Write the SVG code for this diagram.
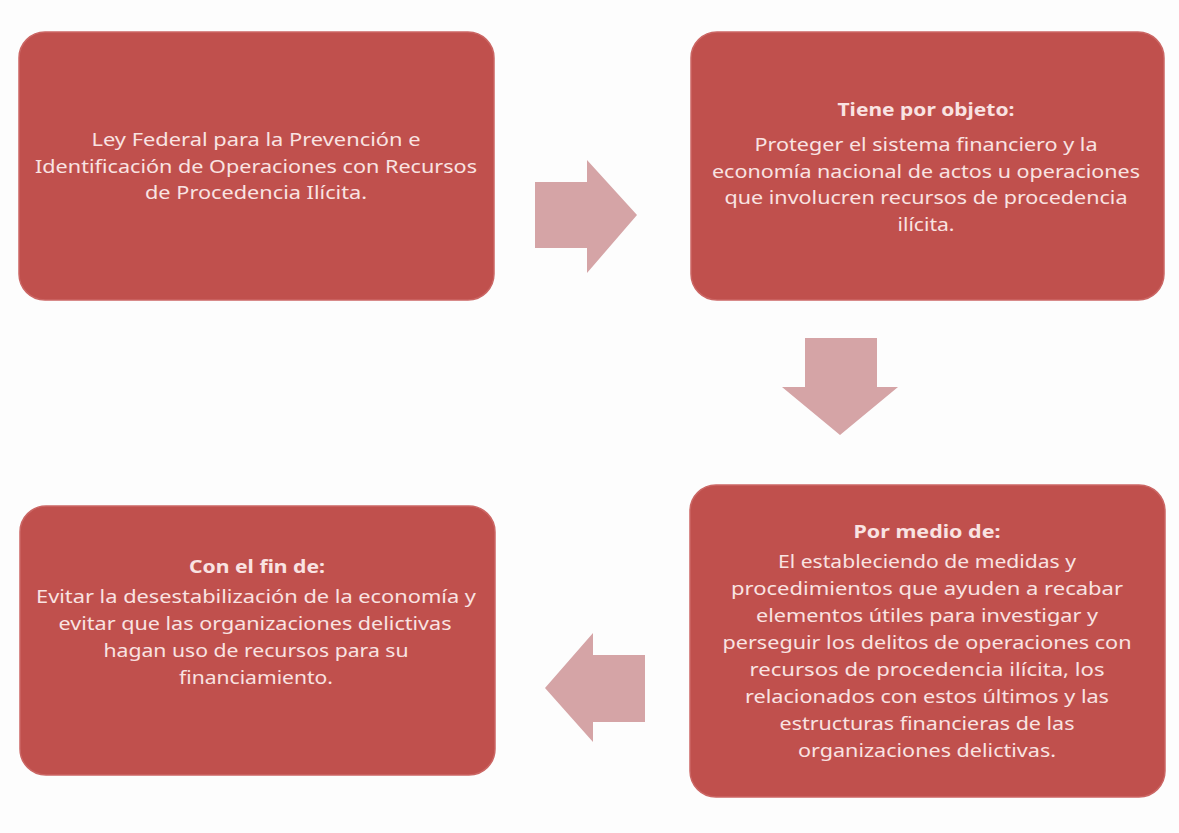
<svg xmlns="http://www.w3.org/2000/svg" width="1179" height="833" viewBox="0 0 1179 833">
<style>
.box{fill:#C0504D;stroke:#CB6664;stroke-width:1.5}
.arrow{fill:#D5A4A6}
.t{font-family:"Noto Sans","Liberation Sans",sans-serif;font-size:18px;fill:#F9E3E2;text-anchor:middle}
.b{font-weight:bold}
</style>
<rect x="0" y="0" width="1179" height="833" fill="#FDFDFD"/>
<g id="connectors">
<polygon class="arrow" points="535,182 587,182 587,160 637,215 587,273 587,248 535,248"/>
<polygon class="arrow" points="805,338 877,338 877,387 898,387 840,435 782,387 805,387"/>
<polygon class="arrow" points="645,655 593,655 593,633 545,688 593,742 593,722 645,722"/>
</g>
<g id="node-ley">
<rect class="box" x="19" y="32" width="475" height="268" rx="26"/>
<text class="t" x="256" y="146" textLength="329" lengthAdjust="spacingAndGlyphs">Ley Federal para la Prevención e</text>
<text class="t" x="256" y="173" textLength="442" lengthAdjust="spacingAndGlyphs">Identificación de Operaciones con Recursos</text>
<text class="t" x="256" y="199" textLength="222" lengthAdjust="spacingAndGlyphs">de Procedencia Ilícita.</text>
</g>
<g id="node-objeto">
<rect class="box" x="691" y="32" width="473" height="268" rx="26"/>
<text class="t b" x="926" y="116" textLength="177" lengthAdjust="spacingAndGlyphs">Tiene por objeto:</text>
<text class="t" x="926" y="151" textLength="343" lengthAdjust="spacingAndGlyphs">Proteger el sistema financiero y la</text>
<text class="t" x="926" y="178" textLength="428" lengthAdjust="spacingAndGlyphs">economía nacional de actos u operaciones</text>
<text class="t" x="926" y="204" textLength="403" lengthAdjust="spacingAndGlyphs">que involucren recursos de procedencia</text>
<text class="t" x="926" y="231" textLength="57" lengthAdjust="spacingAndGlyphs">ilícita.</text>
</g>
<g id="node-medio">
<rect class="box" x="690" y="485" width="475" height="312" rx="26"/>
<text class="t b" x="927" y="538" textLength="147" lengthAdjust="spacingAndGlyphs">Por medio de:</text>
<text class="t" x="927" y="568" textLength="298" lengthAdjust="spacingAndGlyphs">El estableciendo de medidas y</text>
<text class="t" x="927" y="595" textLength="392" lengthAdjust="spacingAndGlyphs">procedimientos que ayuden a recabar</text>
<text class="t" x="927" y="622" textLength="342" lengthAdjust="spacingAndGlyphs">elementos útiles para investigar y</text>
<text class="t" x="927" y="649" textLength="409" lengthAdjust="spacingAndGlyphs">perseguir los delitos de operaciones con</text>
<text class="t" x="927" y="676" textLength="355" lengthAdjust="spacingAndGlyphs">recursos de procedencia ilícita, los</text>
<text class="t" x="927" y="703" textLength="364" lengthAdjust="spacingAndGlyphs">relacionados con estos últimos y las</text>
<text class="t" x="927" y="730" textLength="295" lengthAdjust="spacingAndGlyphs">estructuras financieras de las</text>
<text class="t" x="927" y="757" textLength="258" lengthAdjust="spacingAndGlyphs">organizaciones delictivas.</text>
</g>
<g id="node-fin">
<rect class="box" x="20" y="506" width="475" height="269" rx="26"/>
<text class="t b" x="257" y="573" textLength="136" lengthAdjust="spacingAndGlyphs">Con el fin de:</text>
<text class="t" x="256" y="603" textLength="440" lengthAdjust="spacingAndGlyphs">Evitar la desestabilización de la economía y</text>
<text class="t" x="255" y="630" textLength="393" lengthAdjust="spacingAndGlyphs">evitar que las organizaciones delictivas</text>
<text class="t" x="256" y="657" textLength="305" lengthAdjust="spacingAndGlyphs">hagan uso de recursos para su</text>
<text class="t" x="256" y="684" textLength="154" lengthAdjust="spacingAndGlyphs">financiamiento.</text>
</g>
</svg>
